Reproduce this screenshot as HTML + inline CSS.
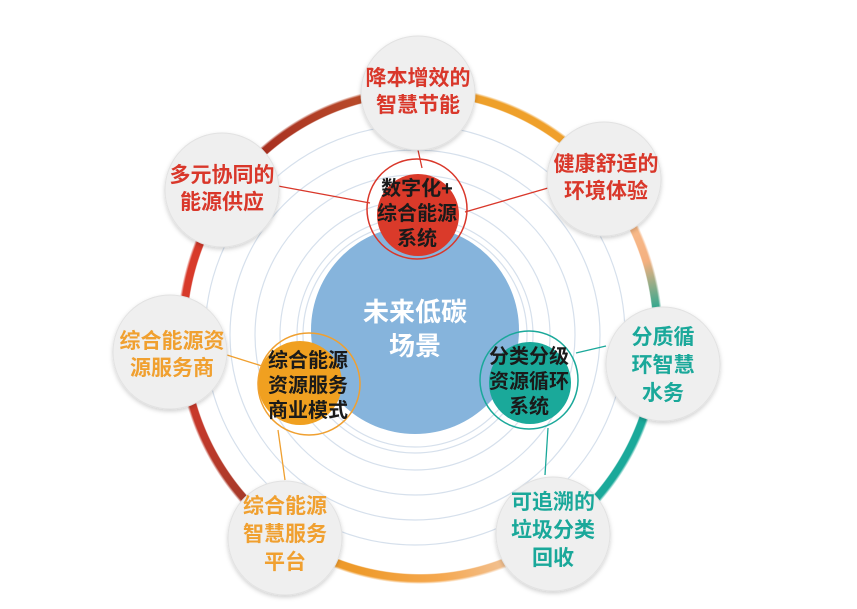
<!DOCTYPE html>
<html><head><meta charset="utf-8"><style>
html,body{margin:0;padding:0;background:#fff;width:857px;height:609px;overflow:hidden}
#ring{position:absolute;left:177px;top:86px;width:486px;height:498px;border-radius:50%;
background:conic-gradient(from 0deg,#e07a2a 0deg,#eea02a 15deg,#f0a02c 40deg,#f7b888 65deg,#f4b080 72deg,#2aa890 84deg,#1aa99a 110deg,#1aa99a 150deg,#f2c090 160deg,#f5a850 175deg,#ee9a2a 195deg,#ee9a2a 205deg,#b04a2a 218deg,#a83a2a 228deg,#c0392b 245deg,#d63a2a 262deg,#d83a2a 290deg,#b8302a 305deg,#a83020 320deg,#b84a2a 345deg,#e07a2a 360deg);
-webkit-mask:radial-gradient(closest-side,transparent calc(100% - 10px),#000 calc(100% - 9px),#000 99%,transparent 100%);
mask:radial-gradient(closest-side,transparent calc(100% - 10px),#000 calc(100% - 9px),#000 99%,transparent 100%)}
svg{position:absolute;left:0;top:0}
text{font-family:"Liberation Sans","Noto Sans CJK SC",sans-serif;font-weight:bold;text-anchor:middle}
</style></head><body>
<div id="ring"></div>
<svg width="857" height="609" viewBox="0 0 857 609">
<defs><filter id="sh" x="-20%" y="-20%" width="140%" height="140%"><feDropShadow dx="0" dy="2" stdDeviation="2" flood-color="#000" flood-opacity="0.18"/></filter></defs>
<g fill="none" stroke="#d6e0ec" stroke-width="1.2">
<circle cx="415" cy="335" r="112"/><circle cx="415" cy="335" r="118"/>
<circle cx="415" cy="335" r="135"/><circle cx="415" cy="335" r="160"/>
<circle cx="415" cy="335" r="185"/><circle cx="415" cy="335" r="210"/>
</g>
<circle cx="415" cy="330" r="104" fill="#86b4dc"/>
<text x="415" y="321" font-size="26" fill="#fff" font-weight="normal">未来低碳</text>
<text x="415" y="355" font-size="26" fill="#fff" font-weight="normal">场景</text>
<g stroke-width="1.3">
<line x1="418" y1="150" x2="422" y2="168" stroke="#d9372a"/>
<line x1="278" y1="186" x2="370" y2="203" stroke="#d9372a"/>
<line x1="548" y1="188" x2="465" y2="212" stroke="#d9372a"/>
<line x1="227" y1="355" x2="262" y2="366" stroke="#f0a030"/>
<line x1="278" y1="430" x2="285" y2="480" stroke="#f0a030"/>
<line x1="606" y1="346" x2="576" y2="353" stroke="#1aa89a"/>
<line x1="548" y1="428" x2="545" y2="475" stroke="#1aa89a"/>
</g>
<circle cx="418" cy="215" r="41" fill="#da3a2a"/>
<circle cx="417" cy="209" r="50" fill="none" stroke="#d9372a" stroke-width="1.5"/>
<g font-size="20" fill="#1a1a1a">
<text x="417" y="195">数字化+</text><text x="417" y="220">综合能源</text><text x="417" y="245">系统</text></g>
<circle cx="300" cy="383" r="42" fill="#f0a020"/>
<circle cx="309" cy="384" r="51" fill="none" stroke="#f0a030" stroke-width="1.5"/>
<g font-size="20" fill="#1a1a1a">
<text x="308" y="367">综合能源</text><text x="308" y="392">资源服务</text><text x="308" y="417">商业模式</text></g>
<circle cx="530" cy="383" r="41" fill="#1aa99a"/>
<circle cx="529" cy="380" r="49" fill="none" stroke="#1aa89a" stroke-width="1.5"/>
<g font-size="20" fill="#1a1a1a">
<text x="529" y="363">分类分级</text><text x="529" y="388">资源循环</text><text x="529" y="413">系统</text></g>
<g fill="#efefef" stroke="#e2e2e2" stroke-width="1" filter="url(#sh)">
<circle cx="418" cy="93" r="57"/><circle cx="222" cy="190" r="57"/><circle cx="604" cy="179" r="57"/>
<circle cx="170" cy="352" r="57"/><circle cx="663" cy="364" r="57"/>
<circle cx="285" cy="538" r="57"/><circle cx="553" cy="534" r="57"/>
</g>
<g font-size="21" fill="#d9372a">
<text x="418" y="85">降本增效的</text><text x="418" y="112">智慧节能</text>
<text x="222" y="182">多元协同的</text><text x="222" y="209">能源供应</text>
<text x="606" y="171">健康舒适的</text><text x="606" y="198">环境体验</text>
</g>
<g font-size="21" fill="#f0a030">
<text x="172" y="348">综合能源资</text><text x="172" y="375">源服务商</text>
<text x="285" y="513">综合能源</text><text x="285" y="541">智慧服务</text><text x="285" y="569">平台</text>
</g>
<g font-size="21" fill="#1aa89a">
<text x="663" y="344">分质循</text><text x="663" y="372">环智慧</text><text x="663" y="400">水务</text>
<text x="553" y="509">可追溯的</text><text x="553" y="537">垃圾分类</text><text x="553" y="565">回收</text>
</g>
</svg>
</body></html>
